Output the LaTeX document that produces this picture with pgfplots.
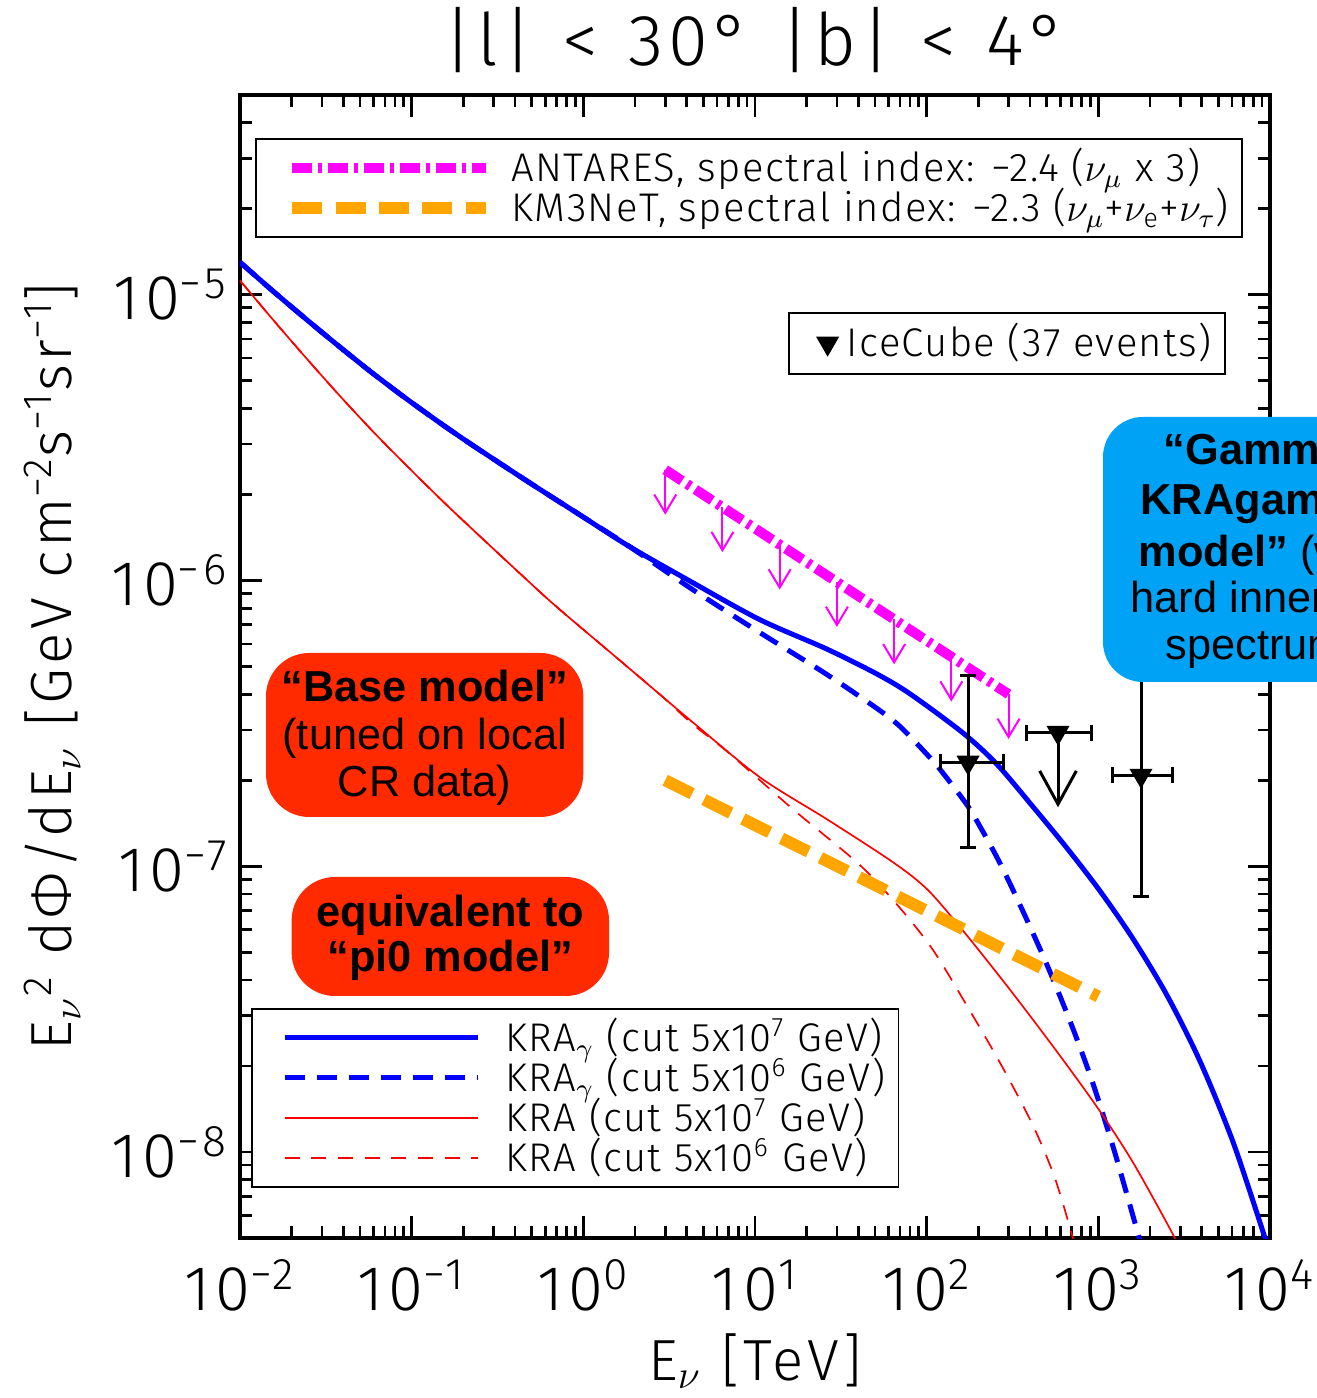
\documentclass[border=0pt]{standalone}
\usepackage{fontspec}
\setmainfont{Fira Sans Light}[LetterSpace=3.6]
\newfontfamily\tickfont{Fira Sans Light}[LetterSpace=8]
\newfontfamily\labelfont{Fira Sans Light}[LetterSpace=6.5]
\newfontfamily\arialfont{Liberation Sans}
\usepackage{pgfplots}
\usepackage{pgfplotstable}
\pgfplotsset{compat=1.18}
\usetikzlibrary{arrows.meta}

\definecolor{kmorange}{RGB}{255,165,0}
\definecolor{antmagenta}{RGB}{255,0,255}
\definecolor{basered}{RGB}{255,42,0}
\definecolor{gammablue}{RGB}{0,162,245}

% KRA_gamma, cutoff 5x10^7 GeV
\pgfplotstableread{
E F
0.0100 1.300e-5
0.01521 1.042e-5
0.02381 8.293e-6
0.03724 6.642e-6
0.05817 5.359e-6
0.09109 4.369e-6
0.1423 3.602e-6
0.2226 2.994e-6
0.4890 2.194e-6
0.9563 1.696e-6
1.870 1.311e-6
4.353 9.817e-7
10.69 7.290e-7
26.27 5.752e-7
51.37 4.705e-7
79.98 4.012e-7
162.8 2.927e-7
256.9 2.272e-7
416.2 1.615e-7
656.8 1.157e-7
1022.6 8.192e-8
1591.4 5.577e-8
2512 3.534e-8
3911 2.078e-8
6087 1.085e-8
9104 5.260e-9
10000 4.393e-9
}\kraGammaHigh

% KRA_gamma, cutoff 5x10^6 GeV
\pgfplotstableread{
E F
0.0100 1.300e-5
0.01521 1.042e-5
0.02381 8.293e-6
0.03724 6.642e-6
0.05817 5.359e-6
0.09109 4.369e-6
0.1423 3.602e-6
0.2226 2.994e-6
0.4890 2.194e-6
0.9563 1.696e-6
1.870 1.311e-6
4.353 9.279e-7
10.69 6.568e-7
26.27 4.686e-7
51.37 3.565e-7
69.94 3.085e-7
100.4 2.463e-7
119.6 2.183e-7
156.4 1.771e-7
186.2 1.520e-7
267.4 1.025e-7
384.0 6.484e-8
522.9 4.268e-8
711.9 2.699e-8
930.8 1.735e-8
1217.4 1.045e-8
1489 6.88e-9
1772 4.755e-9
}\kraGammaLow

% KRA, cutoff 5x10^7 GeV
\pgfplotstableread{
E F
0.0100 1.122e-5
0.01521 8.313e-6
0.02381 6.089e-6
0.03724 4.500e-6
0.05817 3.370e-6
0.09109 2.562e-6
0.1702 1.773e-6
0.4890 9.817e-7
0.7312 7.901e-7
1.489 5.503e-7
2.797 3.989e-7
4.353 3.185e-7
10.69 2.047e-7
26.27 1.460e-7
63.67 1.033e-7
100.4 8.318e-8
156.4 6.128e-8
267.4 4.100e-8
416.2 2.904e-8
656.8 2.012e-8
1022.6 1.388e-8
1591.4 9.198e-9
2615 5.384e-9
2990 4.548e-9
}\kraHigh

% KRA, cutoff 5x10^6 GeV
\pgfplotstableread{
E F
0.0100 1.122e-5
0.01521 8.313e-6
0.02381 6.089e-6
0.03724 4.500e-6
0.05817 3.370e-6
0.09109 2.562e-6
0.1702 1.773e-6
0.4890 9.817e-7
0.7312 7.901e-7
1.489 5.503e-7
2.797 3.989e-7
4.353 3.135e-7
6.868 2.523e-7
16.65 1.583e-7
40.89 1.009e-7
69.94 7.141e-8
108.9 5.093e-8
171.8 3.247e-8
267.4 2.053e-8
416.2 1.238e-8
559.2 8.08e-9
711.9 4.99e-9
761.3 4.247e-9
}\kraLow

% IceCube points with full error bars
\pgfplotstableread{
E F exp exm eyp eym
174.2 2.309e-7 104.2 54.6 2.339e-7 1.148e-7
1772 2.079e-7 914 555 4.131e-7 1.293e-7
}\icecubeMeasured

% IceCube upper limit (energy range only)
\pgfplotstableread{
E F exp exm
582.1 2.938e-7 324.1 198.1
}\icecubeLimit

\begin{document}
\begin{tikzpicture}

% ---------- models, frame and labels ----------
\begin{axis}[
  scale only axis, width=309pt, height=342.9pt,
  at={(0pt,0pt)}, anchor=south west,
  xmode=log, ymode=log,
  xmin=0.01, xmax=1e4, ymin=5e-9, ymax=5e-5,
  xtick={1e-2,1e-1,1,10,100,1000,10000},
  xticklabels={10\textsuperscript{−2},10\textsuperscript{−1},10\textsuperscript{0},10\textsuperscript{1},10\textsuperscript{2},10\textsuperscript{3},10\textsuperscript{4}},
  minor xtick={0.02,0.03,0.04,0.05,0.06,0.07,0.08,0.09,0.2,0.3,0.4,0.5,0.6,0.7,0.8,0.9,2,3,4,5,6,7,8,9,20,30,40,50,60,70,80,90,200,300,400,500,600,700,800,900,2000,3000,4000,5000,6000,7000,8000,9000},
  ytick={1e-8,1e-7,1e-6,1e-5},
  yticklabels={10\textsuperscript{−8},10\textsuperscript{−7},10\textsuperscript{−6},10\textsuperscript{−5}},
  minor ytick={6e-9,7e-9,8e-9,9e-9,2e-8,3e-8,4e-8,5e-8,6e-8,7e-8,8e-8,9e-8,2e-7,3e-7,4e-7,5e-7,6e-7,7e-7,8e-7,9e-7,2e-6,3e-6,4e-6,5e-6,6e-6,7e-6,8e-6,9e-6,2e-5,3e-5,4e-5},
  tick align=inside,
  major tick length=6.6pt, minor tick length=3.6pt,
  tick style={black, line width=0.8pt},
  axis line style={line width=1pt},
  tick label style={font=\tickfont\fontsize{19}{21}\selectfont},
  xticklabel style={yshift=-3pt},
  xlabel={E$_\nu$ [TeV]},
  xlabel style={at={(axis description cs:0.5,0)}, anchor=base, yshift=-42.6pt, font=\labelfont\fontsize{17.4}{20}\selectfont},
  ylabel={E$_\nu$\textsuperscript{2} dΦ/dE$_\nu$ [GeV cm\textsuperscript{−2}s\textsuperscript{−1}sr\textsuperscript{−1}]},
  ylabel style={at={(axis description cs:-0.1631,0.5)}, anchor=base, font=\labelfont\fontsize{17.4}{20}\selectfont},
  title={|l|\hspace{1.5pt} <\hspace{1.5pt} 30°\hspace{1.5pt} |b|\hspace{1.5pt} <\hspace{1.5pt} 4°},
  title style={at={(axis description cs:0.5,1)}, anchor=base, yshift=3pt, font=\labelfont\fontsize{21.7}{24}\selectfont},
  legend image code/.code={\path (-7.1pt,-2pt) (63.5pt,2pt); \draw[#1] (0pt,0pt) -- (58pt,0pt);},
  legend cell align=left,
  legend style={at={(0.0107,0.2012)}, anchor=north west,
    draw=black, line width=0.5pt, fill=white,
    inner xsep=2pt, inner ysep=2.7pt, row sep=0pt,
    font=\fontsize{12}{12}\selectfont,
    nodes={inner xsep=2pt, inner ysep=0pt, text height=10pt, text depth=2pt}},
]
\addplot[blue, line width=1.5pt, smooth, tension=0.5] table[x=E, y=F] \kraGammaHigh;
\addlegendentry{KRA$_\gamma$ (cut 5x10\textsuperscript{7} GeV)}
\addplot[blue, line width=1.5pt, smooth, tension=0.5, dash pattern=on 6pt off 3.6pt] table[x=E, y=F] \kraGammaLow;
\addlegendentry{KRA$_\gamma$ (cut 5x10\textsuperscript{6} GeV)}
\addplot[red, line width=0.5pt, smooth, tension=0.5] table[x=E, y=F] \kraHigh;
\addlegendentry{KRA (cut 5x10\textsuperscript{7} GeV)}
\addplot[red, line width=0.5pt, smooth, tension=0.5, dash pattern=on 4.5pt off 3.5pt] table[x=E, y=F] \kraLow;
\addlegendentry{KRA (cut 5x10\textsuperscript{6} GeV)}
\end{axis}

% ---------- ANTARES and KM3NeT ----------
\begin{axis}[
  scale only axis, width=309pt, height=342.9pt,
  at={(0pt,0pt)}, anchor=south west,
  xmode=log, ymode=log,
  xmin=0.01, xmax=1e4, ymin=5e-9, ymax=5e-5,
  hide axis,
  legend image code/.code={\path (-7.1pt,-2pt) (62pt,2pt); \draw[#1] (0pt,0pt) -- (58pt,0pt);},
  legend cell align=left,
  legend style={at={(0.0146,0.9624)}, anchor=north west,
    draw=black, line width=0.5pt, fill=white,
    inner xsep=2pt, inner ysep=2.7pt, row sep=0pt,
    font=\fontsize{12}{12}\selectfont,
    nodes={inner xsep=2pt, inner ysep=0pt, text height=10pt, text depth=2pt}},
]
\addplot[antmagenta, line width=3pt, dash pattern=on 6pt off 1.8pt on 1.2pt off 1.8pt] coordinates {(3,2.44e-6) (300,4.0e-7)};
\addlegendentry{ANTARES, spectral index: −2.4 ($\nu_\mu$ x 3)}
\addplot[kmorange, line width=3.6pt, dash pattern=on 9pt off 4pt] coordinates {(3,2.0e-7) (1000,3.5e-8)};
\addlegendentry{KM3NeT, spectral index: −2.3 ($\nu_\mu$+$\nu_\mathrm{e}$+$\nu_\tau$)}
% upper-limit arrows along the ANTARES band
\addplot[forget plot, antmagenta, line width=0.6pt, -{Straight Barb[length=5.5pt,width=6.6pt]}] coordinates {(3.000,2.440e-6) (3.000,1.699e-6)};
\addplot[forget plot, antmagenta, line width=0.6pt, -{Straight Barb[length=5.5pt,width=6.6pt]}] coordinates {(6.463,1.805e-6) (6.463,1.257e-6)};
\addplot[forget plot, antmagenta, line width=0.6pt, -{Straight Barb[length=5.5pt,width=6.6pt]}] coordinates {(13.92,1.335e-6) (13.92,9.30e-7)};
\addplot[forget plot, antmagenta, line width=0.6pt, -{Straight Barb[length=5.5pt,width=6.6pt]}] coordinates {(30.00,9.88e-7) (30.00,6.88e-7)};
\addplot[forget plot, antmagenta, line width=0.6pt, -{Straight Barb[length=5.5pt,width=6.6pt]}] coordinates {(64.63,7.31e-7) (64.63,5.09e-7)};
\addplot[forget plot, antmagenta, line width=0.6pt, -{Straight Barb[length=5.5pt,width=6.6pt]}] coordinates {(139.2,5.41e-7) (139.2,3.77e-7)};
\addplot[forget plot, antmagenta, line width=0.6pt, -{Straight Barb[length=5.5pt,width=6.6pt]}] coordinates {(300.0,4.00e-7) (300.0,2.79e-7)};
\end{axis}

% ---------- IceCube ----------
\begin{axis}[
  scale only axis, width=309pt, height=342.9pt,
  at={(0pt,0pt)}, anchor=south west,
  xmode=log, ymode=log,
  xmin=0.01, xmax=1e4, ymin=5e-9, ymax=5e-5,
  hide axis,
  legend image code/.code={\path (-9.4pt,-2pt) (3.5pt,2pt); \draw[#1] plot coordinates {(0pt,0pt)};},
  legend cell align=left,
  legend style={at={(0.532,0.8101)}, anchor=north west,
    draw=black, line width=0.5pt, fill=white,
    inner xsep=2pt, inner ysep=3.15pt, row sep=0pt,
    font=\fontsize{12}{12}\selectfont,
    nodes={inner xsep=2pt, inner ysep=0pt, text height=10pt, text depth=2pt}},
]
\addlegendimage{black, only marks, mark=triangle*, mark size=3.5pt, mark options={rotate=180, fill=black}}
\addlegendentry{IceCube (37 events)\hspace{2pt}}
\addplot[forget plot, black, line width=0.9pt, only marks, mark=triangle*, mark size=3.5pt,
  mark options={rotate=180, fill=black, line width=0.5pt},
  error bars/.cd, x dir=both, x explicit, y dir=both, y explicit,
  error bar style={line width=0.9pt},
  error mark options={rotate=90, line width=0.9pt, mark size=2.4pt}]
  table[x=E, y=F, x error plus=exp, x error minus=exm, y error plus=eyp, y error minus=eym] \icecubeMeasured;
\addplot[forget plot, black, line width=0.9pt, only marks, mark=triangle*, mark size=3.5pt,
  mark options={rotate=180, fill=black, line width=0.5pt},
  error bars/.cd, x dir=both, x explicit,
  error bar style={line width=0.9pt},
  error mark options={rotate=90, line width=0.9pt, mark size=2.4pt}]
  table[x=E, y=F, x error plus=exp, x error minus=exm] \icecubeLimit;
\addplot[forget plot, black, line width=0.9pt, -{Straight Barb[length=10pt,width=11pt]}] coordinates {(582.1,2.938e-7) (582.1,1.608e-7)};
\end{axis}

% ---------- model annotations ----------
\fill[basered, rounded corners=13pt] (7.8pt,126.3pt) rectangle (103pt,175.5pt);
\node[anchor=base, inner sep=0pt, font=\arialfont\fontsize{13}{13}\selectfont\bfseries] at (55.4pt,160.8pt) {“Base model”};
\node[anchor=base, inner sep=0pt, font=\arialfont\fontsize{13}{13}\selectfont] at (55.4pt,146.4pt) {(tuned on local};
\node[anchor=base, inner sep=0pt, font=\arialfont\fontsize{13}{13}\selectfont] at (55.4pt,132.3pt) {CR data)};

\fill[basered, rounded corners=13pt] (15.5pt,72.6pt) rectangle (110.7pt,108.3pt);
\node[anchor=base, inner sep=0pt, font=\arialfont\fontsize{13}{13}\selectfont\bfseries] at (63.1pt,93.3pt) {equivalent to};
\node[anchor=base, inner sep=0pt, font=\arialfont\fontsize{13}{13}\selectfont\bfseries] at (63.1pt,79.8pt) {“pi0 model”};

\fill[gammablue, rounded corners=12pt] (258.9pt,166.8pt) rectangle (420pt,246.3pt);
\node[anchor=base west, inner sep=0pt, font=\arialfont\fontsize{13}{13}\selectfont\bfseries] at (276.9pt,231.9pt) {“Gamma};
\node[anchor=base west, inner sep=0pt, font=\arialfont\fontsize{13}{13}\selectfont\bfseries] at (270pt,216.9pt) {KRAgamma};
\node[anchor=base west, inner sep=0pt, font=\arialfont\fontsize{13}{13}\selectfont] at (269.4pt,201.3pt) {\bfseries model” \mdseries (with};
\node[anchor=base west, inner sep=0pt, font=\arialfont\fontsize{13}{13}\selectfont] at (267pt,187.5pt) {hard inner CR};
\node[anchor=base west, inner sep=0pt, font=\arialfont\fontsize{13}{13}\selectfont] at (277.5pt,173.4pt) {spectrum)};

\pgfresetboundingbox
\useasboundingbox (-72pt,-48pt) rectangle (323.1pt,371.4pt);
\end{tikzpicture}
\end{document}
